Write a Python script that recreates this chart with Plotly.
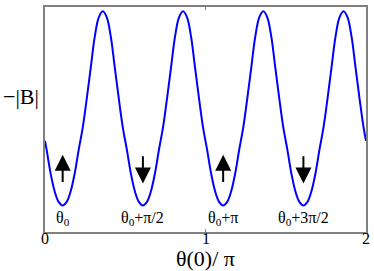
import plotly.graph_objects as go

# theta(0)/pi sample positions and -|B| (arbitrary units, 0..1)
theta = [0.0, 0.01, 0.035, 0.06, 0.085,
         0.11, 0.135, 0.16, 0.185, 0.21, 0.235, 0.26, 0.285, 0.31, 0.335,
         0.36, 0.385, 0.41, 0.435, 0.46, 0.485, 0.51, 0.535, 0.56, 0.585,
         0.61, 0.635, 0.66, 0.685, 0.71, 0.735, 0.76, 0.785, 0.81, 0.835,
         0.86, 0.885, 0.91, 0.935, 0.96, 0.985, 1.01, 1.035, 1.06, 1.085,
         1.11, 1.135, 1.16, 1.185, 1.21, 1.235, 1.26, 1.285, 1.31, 1.335,
         1.36, 1.385, 1.41, 1.435, 1.46, 1.485, 1.51, 1.535, 1.56, 1.585,
         1.61, 1.635, 1.66, 1.685, 1.71, 1.735, 1.76, 1.785, 1.81, 1.835,
         1.86, 1.885, 1.91, 1.935, 1.96, 1.985, 2.0]
neg_B = [0.405, 0.366, 0.260, 0.181, 0.134,
         0.118, 0.134, 0.181, 0.260, 0.366, 0.464, 0.592, 0.730, 0.868, 0.954,
         0.981, 0.954, 0.868, 0.730, 0.592, 0.464, 0.366, 0.260, 0.181, 0.134,
         0.118, 0.134, 0.181, 0.260, 0.366, 0.464, 0.592, 0.730, 0.868, 0.954,
         0.981, 0.954, 0.868, 0.730, 0.592, 0.464, 0.366, 0.260, 0.181, 0.134,
         0.118, 0.134, 0.181, 0.260, 0.366, 0.464, 0.592, 0.730, 0.868, 0.954,
         0.981, 0.954, 0.868, 0.730, 0.592, 0.464, 0.366, 0.260, 0.181, 0.134,
         0.118, 0.134, 0.181, 0.260, 0.366, 0.464, 0.592, 0.730, 0.868, 0.954,
         0.981, 0.954, 0.868, 0.730, 0.592, 0.464, 0.405]

# minima: spin direction arrows and labels
min_pos = [0.11, 0.61, 1.11, 1.61]
min_labels = ["θ<sub>0</sub>", "θ<sub>0</sub>+π/2", "θ<sub>0</sub>+π", "θ<sub>0</sub>+3π/2"]
spin_up = [True, False, True, False]
arrow_lo, arrow_hi = 0.216, 0.343
label_y = 0.06

xtick_vals = [0, 1, 2]
xtick_text = ["0", "1", "2"]

serif = "Liberation Serif"

fig = go.Figure()
fig.add_trace(go.Scatter(x=theta, y=neg_B, mode="lines", line_shape="spline",
                         line=dict(color="#0000ff", width=2), showlegend=False))

for xm, lab, up in zip(min_pos, min_labels, spin_up):
    head, tail = (arrow_hi, arrow_lo) if up else (arrow_lo, arrow_hi)
    fig.add_annotation(x=xm, y=head, ax=xm, ay=tail, xref="x", yref="y",
                       axref="x", ayref="y", text="", showarrow=True,
                       arrowhead=2, arrowsize=1.6, arrowwidth=2, arrowcolor="black")
    fig.add_annotation(x=xm, y=label_y, text=lab, showarrow=False,
                       font=dict(family=serif, size=16, color="black"))

# tick labels drawn as annotations so they sit right under the frame
for tv, tt in zip(xtick_vals, xtick_text):
    fig.add_annotation(x=tv, y=-0.031, xref="x", yref="paper", text=tt,
                       showarrow=False, yanchor="middle", borderpad=0,
                       font=dict(family=serif, size=16, color="black"))

fig.add_annotation(x=0, y=0.603, xref="paper", yref="paper", xanchor="right",
                   yanchor="middle", xshift=-4, text="−|B|", showarrow=False,
                   font=dict(family=serif, size=22, color="black"))
fig.add_annotation(x=0.5, y=-0.117, xref="paper", yref="paper", yanchor="middle",
                   text="θ(0)/ π", showarrow=False, borderpad=0,
                   font=dict(family=serif, size=22, color="black"))

fig.update_xaxes(range=[0, 2], tickvals=xtick_vals, showticklabels=False,
                 ticks="inside", ticklen=3, tickcolor="#808080", mirror="ticks",
                 showline=True, linecolor="#808080", linewidth=1.5, showgrid=False,
                 zeroline=False)
fig.update_yaxes(range=[0, 1], showticklabels=False, ticks="", mirror=True,
                 showline=True, linecolor="#808080", linewidth=1.5, showgrid=False,
                 zeroline=False)
fig.update_layout(width=374, height=271, margin=dict(l=45, r=8, t=5, b=39),
                  plot_bgcolor="white", paper_bgcolor="white")
# drop the browser's default 8px page margin so the figure sits at the corner
fig.write_html("out.html", config={"displayModeBar": False},
               post_script="document.body.style.margin='0';")
